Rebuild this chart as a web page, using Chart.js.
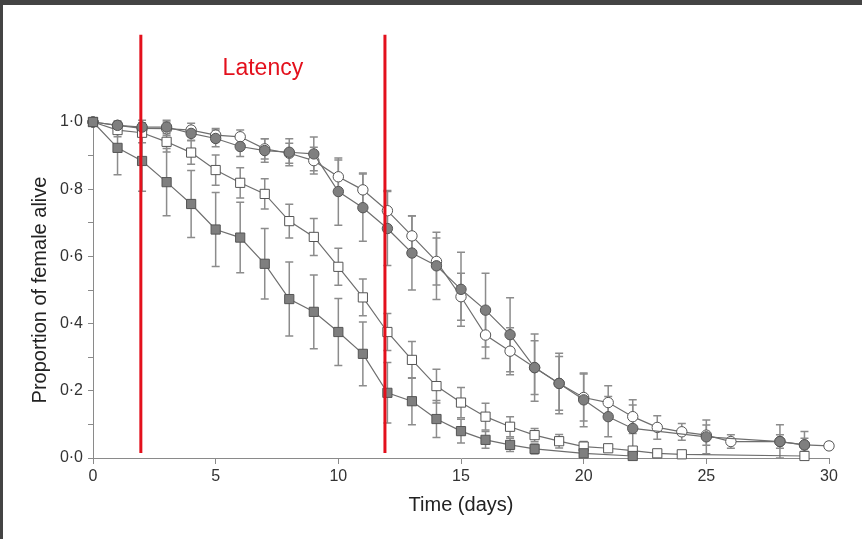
<!DOCTYPE html>
<html>
<head>
<meta charset="utf-8">
<script src="https://cdn.jsdelivr.net/npm/chart.js@4/dist/chart.umd.min.js"></script>
<style>
html, body { margin: 0; padding: 0; background: #fff; }
#wrap { position: relative; width: 862px; height: 539px; overflow: hidden; }
#survival { position: absolute; left: 0; top: 0; }
#topbar { position: absolute; left: 0; top: 0; width: 862px; height: 5px; background: #444; }
#leftbar { position: absolute; left: 0; top: 0; width: 3px; height: 539px; background: #444; }
</style>
</head>
<body>
<div id="wrap">
    <canvas id="survival" width="862" height="539"></canvas>
    <div id="topbar"></div>
    <div id="leftbar"></div>
</div>
<script>
// filled squares
var sqFilledDays = [0, 1, 2, 3, 4, 5, 6, 7, 8, 9, 10, 11, 12, 13, 14, 15, 16, 17, 18, 20, 22];
var sqFilledVals = [1.0, 0.923, 0.884, 0.821, 0.756, 0.68, 0.656, 0.578, 0.473, 0.435, 0.375, 0.31, 0.194, 0.169, 0.116, 0.08, 0.054, 0.039, 0.027, 0.014, 0.006];
var sqFilledErr = [0, 0.08, 0.09, 0.1, 0.1, 0.11, 0.105, 0.105, 0.11, 0.11, 0.1, 0.095, 0.09, 0.07, 0.055, 0.035, 0.025, 0.02, 0.015, 0.01, 0];

// open squares
var sqOpenDays = [0, 1, 2, 3, 4, 5, 6, 7, 8, 9, 10, 11, 12, 13, 14, 15, 16, 17, 18, 19, 20, 21, 22, 23, 24, 29];
var sqOpenVals = [1.0, 0.976, 0.968, 0.941, 0.909, 0.857, 0.819, 0.786, 0.705, 0.658, 0.569, 0.478, 0.375, 0.292, 0.214, 0.165, 0.123, 0.093, 0.068, 0.05, 0.034, 0.029, 0.022, 0.014, 0.011, 0.006];
var sqOpenErr = [0, 0.02, 0.03, 0.03, 0.035, 0.045, 0.045, 0.045, 0.05, 0.055, 0.055, 0.055, 0.055, 0.055, 0.05, 0.045, 0.04, 0.03, 0.02, 0.02, 0.015, 0.01, 0.01, 0.01, 0, 0];

// filled circles
var ciFilledDays = [0, 1, 2, 3, 4, 5, 6, 7, 8, 9, 10, 11, 12, 13, 14, 15, 16, 17, 18, 19, 20, 21, 22, 25, 28, 29];
var ciFilledVals = [1.0, 0.99, 0.985, 0.985, 0.966, 0.951, 0.927, 0.915, 0.91, 0.905, 0.793, 0.745, 0.683, 0.61, 0.572, 0.502, 0.44, 0.367, 0.269, 0.222, 0.173, 0.123, 0.088, 0.063, 0.049, 0.039];
var ciFilledErr = [0, 0.01, 0.02, 0.02, 0.02, 0.025, 0.03, 0.035, 0.04, 0.05, 0.1, 0.1, 0.11, 0.11, 0.1, 0.11, 0.11, 0.11, 0.1, 0.09, 0.08, 0.06, 0.07, 0.05, 0.05, 0.04];

// open circles
var ciOpenDays = [0, 1, 2, 3, 4, 5, 6, 7, 8, 9, 10, 11, 12, 13, 14, 15, 16, 17, 18, 19, 20, 21, 22, 23, 24, 25, 26, 28, 29, 30];
var ciOpenVals = [1.0, 0.99, 0.981, 0.98, 0.976, 0.961, 0.956, 0.92, 0.907, 0.885, 0.837, 0.798, 0.736, 0.661, 0.585, 0.48, 0.366, 0.318, 0.269, 0.222, 0.18, 0.165, 0.123, 0.091, 0.078, 0.068, 0.049, 0.049, 0.039, 0.036];
var ciOpenErr = [0, 0.01, 0.01, 0.02, 0.02, 0.02, 0.02, 0.03, 0.03, 0.04, 0.05, 0.05, 0.06, 0.06, 0.07, 0.07, 0.07, 0.07, 0.08, 0.08, 0.07, 0.05, 0.05, 0.035, 0.025, 0.03, 0.02, 0.02, 0.02, 0.01];

var yTicks = ["0·0", "0·2", "0·4", "0·6", "0·8", "1·0"];
var latencyDays = [1.95, 11.9];

function toPoints(days, vals) {
    return days.map(function (d, i) { return { x: d, y: vals[i] }; });
}

function series(days, vals, errs, style, fill) {
    return {
        data: toPoints(days, vals),
        errors: errs,
        showLine: true,
        clip: false,
        borderColor: "#6e6e6e",
        borderWidth: 1.2,
        pointStyle: style,
        pointRadius: style === "rect" ? 6.5 : 5.2,
        pointBackgroundColor: fill,
        pointBorderColor: "#555",
        pointBorderWidth: 1,
    };
}

var errorBars = {
    id: "errorBars",
    beforeDatasetsDraw: function (chart) {
        var ctx = chart.ctx;
        var xs = chart.scales.x, ys = chart.scales.y;
        ctx.save();
        ctx.strokeStyle = "#8c8c8c";
        ctx.lineWidth = 1.5;
        chart.data.datasets.forEach(function (ds) {
            ds.data.forEach(function (p, i) {
                var e = ds.errors[i];
                if (!e) return;
                var px = xs.getPixelForValue(p.x);
                var top = ys.getPixelForValue(p.y + e);
                var bot = ys.getPixelForValue(Math.max(p.y - e, 0));
                ctx.beginPath();
                ctx.moveTo(px, top); ctx.lineTo(px, bot);
                ctx.moveTo(px - 4, top); ctx.lineTo(px + 4, top);
                ctx.moveTo(px - 4, bot); ctx.lineTo(px + 4, bot);
                ctx.stroke();
            });
        });
        ctx.restore();
    },
};

var latency = {
    id: "latency",
    afterDraw: function (chart) {
        var ctx = chart.ctx;
        var xs = chart.scales.x, ys = chart.scales.y;
        ctx.save();
        ctx.strokeStyle = "#e3101c";
        ctx.lineWidth = 3;
        latencyDays.forEach(function (d) {
            var px = xs.getPixelForValue(d);
            ctx.beginPath();
            ctx.moveTo(px, ys.getPixelForValue(1.26));
            ctx.lineTo(px, ys.getPixelForValue(0.015));
            ctx.stroke();
        });
        ctx.fillStyle = "#e3101c";
        ctx.font = "23px 'Liberation Sans', Arial, sans-serif";
        ctx.textAlign = "center";
        ctx.textBaseline = "middle";
        ctx.fillText("Latency", xs.getPixelForValue((latencyDays[0] + latencyDays[1]) / 2), ys.getPixelForValue(1.16));
        ctx.restore();
    },
};

var ctx = document.getElementById("survival").getContext("2d");
var myChart = new Chart(ctx, {
    type: "scatter",
    data: {
        datasets: [
            series(sqFilledDays, sqFilledVals, sqFilledErr, "rect", "#7f7f7f"),
            series(ciFilledDays, ciFilledVals, ciFilledErr, "circle", "#7f7f7f"),
            series(sqOpenDays, sqOpenVals, sqOpenErr, "rect", "#ffffff"),
            series(ciOpenDays, ciOpenVals, ciOpenErr, "circle", "#ffffff"),
        ],
    },
    options: {
        responsive: false,
        animation: false,
        layout: { padding: { top: 122, right: 33, left: 0, bottom: 0 } },
        plugins: { legend: { display: false }, tooltip: { enabled: false } },
        scales: {
            x: {
                type: "linear",
                min: 0,
                max: 30,
                ticks: {
                    stepSize: 5,
                    color: "#333",
                    font: { family: "'Liberation Sans', Arial", size: 16 },
                    padding: 3,
                },
                grid: { drawOnChartArea: false, tickLength: 6, color: "#8a8a8a" },
                border: { color: "#8a8a8a" },
                title: {
                    display: true,
                    text: "Time (days)",
                    color: "#222",
                    font: { family: "'Liberation Sans', Arial", size: 20 },
                    padding: { top: 0, bottom: 22 },
                },
                afterFit: function (s) { s.height = 81; },
            },
            y: {
                min: 0,
                max: 1,
                ticks: {
                    stepSize: 0.1,
                    autoSkip: false,
                    color: "#333",
                    font: { family: "'Liberation Sans', Arial", size: 16 },
                    padding: 5,
                    callback: function (v) {
                        var k = Math.round(v * 10);
                        return k % 2 === 0 ? yTicks[k / 2] : "";
                    },
                },
                grid: { drawOnChartArea: false, tickLength: 5, color: "#8a8a8a" },
                border: { color: "#8a8a8a" },
                title: {
                    display: true,
                    text: "Proportion of female alive",
                    color: "#222",
                    font: { family: "'Liberation Sans', Arial", size: 20 },
                    padding: { top: 28, bottom: 0 },
                },
                afterFit: function (s) { s.width = 93; },
            },
        },
    },
    plugins: [errorBars, latency],
});
</script>
</body>
</html>
